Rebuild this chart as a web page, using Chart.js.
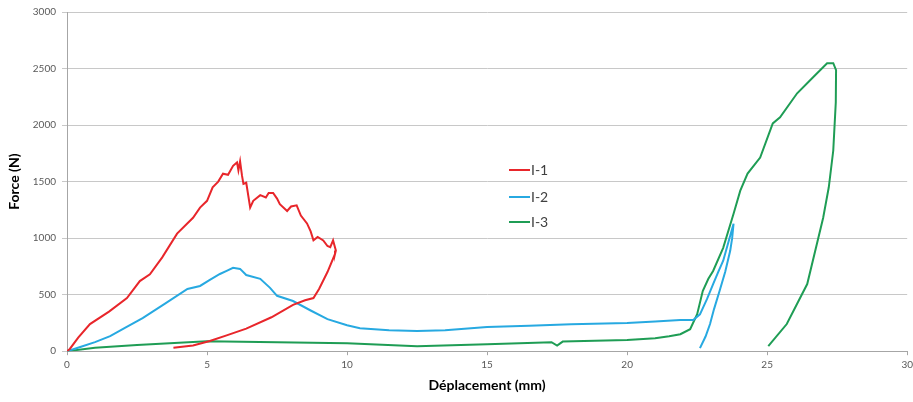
<!DOCTYPE html>
<html>
<head>
<meta charset="utf-8">
<script src="https://cdn.jsdelivr.net/npm/chart.js@4"></script>
<style>
  body { margin: 0; background: #fff; overflow: hidden; }
  #wrap { width: 913px; height: 402px; overflow: hidden; }
</style>
</head>
<body>
<div id="wrap"><canvas id="myChart" width="917" height="402"></canvas></div>
<script>
// séries (déplacement en mm, force en N)
const labels = ["I-1", "I-2", "I-3"];
const colors = ["#e8262b", "#27a9e1", "#1f9d55"];

const x1 = [0, 0.1, 0.4, 0.82, 1.5, 2.14, 2.6, 2.96, 3.4, 3.93, 4.5, 4.75, 5.0, 5.2, 5.4, 5.57, 5.75, 5.93, 6.07, 6.12, 6.18, 6.25, 6.3, 6.4, 6.54, 6.65, 6.9, 7.1, 7.2, 7.36, 7.5, 7.6, 7.86, 8.0, 8.2, 8.35, 8.57, 8.7, 8.8, 8.95, 9.15, 9.3, 9.4, 9.5, 9.6, 9.57, 9.3, 9.0, 8.8, 8.5, 8.07, 7.3, 6.4, 5.7, 5.1, 4.5, 3.8];
const y1 = [0, 20, 120, 240, 350, 470, 620, 680, 830, 1040, 1180, 1270, 1330, 1450, 1500, 1570, 1560, 1640, 1670, 1600, 1680, 1550, 1480, 1490, 1270, 1330, 1380, 1360, 1400, 1400, 1350, 1300, 1240, 1280, 1290, 1200, 1130, 1060, 980, 1010, 980, 930, 920, 980, 890, 860, 700, 550, 470, 450, 410, 300, 200, 140, 90, 50, 30];

const x2 = [0, 0.5, 1.0, 1.54, 2.1, 2.7, 3.5, 4.3, 4.75, 5.1, 5.46, 5.7, 5.93, 6.18, 6.4, 6.9, 7.25, 7.5, 8.07, 8.7, 9.3, 10.0, 10.46, 11.5, 12.5, 13.5, 15.0, 16.5, 18.0, 20.0, 21.0, 21.9, 22.36, 22.6, 22.85, 23.07, 23.25, 23.43, 23.6, 23.8, 23.75, 23.68, 23.5, 23.3, 23.1, 22.96, 22.8, 22.6];
const y2 = [0, 40, 80, 133, 210, 293, 420, 550, 577, 630, 683, 710, 737, 728, 674, 640, 560, 490, 444, 360, 284, 230, 204, 185, 178, 185, 213, 225, 238, 250, 262, 275, 275, 326, 460, 594, 700, 800, 950, 1127, 1000, 888, 700, 532, 370, 240, 130, 27];

const x3 = [0, 1.0, 2.5, 5.0, 7.5, 10.0, 12.5, 15.0, 17.3, 17.5, 17.7, 20.0, 21.0, 21.5, 21.9, 22.25, 22.5, 22.7, 22.9, 23.07, 23.43, 23.8, 24.04, 24.3, 24.75, 25.2, 25.46, 26.07, 26.64, 27.14, 27.36, 27.46, 27.45, 27.36, 27.2, 27.0, 26.43, 25.7, 25.04];
const y3 = [0, 30, 55, 89, 80, 71, 44, 62, 80, 50, 85, 98, 115, 133, 150, 195, 328, 532, 640, 710, 914, 1216, 1420, 1571, 1713, 2015, 2068, 2281, 2423, 2547, 2547, 2485, 2200, 1775, 1450, 1180, 594, 240, 44];

const xTicks = [0, 5, 10, 15, 20, 25, 30];
const yTicks = [0, 500, 1000, 1500, 2000, 2500, 3000];

function toPoints(xs, ys) {
    return xs.map((x, i) => ({ x: x, y: ys[i] }));
}

// légende dessinée dans la zone du graphique
const insideLegend = {
    id: "insideLegend",
    afterDraw(chart) {
        const ctx = chart.ctx;
        const rows = [170, 197, 222];
        ctx.save();
        ctx.font = "14px Lato";
        ctx.textBaseline = "middle";
        labels.forEach((lab, i) => {
            ctx.strokeStyle = colors[i];
            ctx.lineWidth = 2;
            ctx.beginPath();
            ctx.moveTo(509, rows[i]);
            ctx.lineTo(530, rows[i]);
            ctx.stroke();
            ctx.fillStyle = "#404040";
            ctx.fillText(lab, 531, rows[i]);
        });
        ctx.restore();
    }
};

const ctx = document.getElementById("myChart").getContext("2d");
const myChart = new Chart(ctx, {
    type: "scatter",
    data: {
        datasets: [
            { label: labels[0], data: toPoints(x1, y1) },
            { label: labels[1], data: toPoints(x2, y2) },
            { label: labels[2], data: toPoints(x3, y3) }
        ].map((d, i) => Object.assign(d, {
            showLine: true,
            borderColor: colors[i],
            backgroundColor: colors[i],
            borderWidth: 2,
            pointRadius: 0,
            tension: 0
        }))
    },
    options: {
        responsive: false,
        animation: false,
        layout: { padding: { top: 6, right: 2, left: 4, bottom: 4 } },
        plugins: {
            legend: { display: false },
            tooltip: { enabled: false }
        },
        scales: {
            x: {
                type: "linear",
                min: 0,
                max: 30,
                afterBuildTicks: axis => { axis.ticks = xTicks.map(v => ({ value: v })); },
                grid: { drawOnChartArea: false, color: "#a6a6a6", tickLength: 4 },
                border: { color: "#a6a6a6" },
                ticks: { color: "#595959", font: { family: "Lato", size: 10 }, padding: 4, callback: v => String(v) },
                title: { display: true, text: "Déplacement (mm)", color: "#000", font: { family: "Lato", size: 14, weight: "bold" }, padding: { top: 2 } }
            },
            y: {
                min: 0,
                max: 3000,
                afterBuildTicks: axis => { axis.ticks = yTicks.map(v => ({ value: v })); },
                grid: { color: "#c8c8c8", tickLength: 5 },
                border: { color: "#a6a6a6" },
                ticks: { color: "#595959", font: { family: "Lato", size: 10 }, padding: 6, callback: v => String(v) },
                title: { display: true, text: "Force (N)", color: "#000", font: { family: "Lato", size: 14, weight: "bold" }, padding: { top: 2, bottom: 4 } }
            }
        }
    },
    plugins: [insideLegend]
});
</script>
</body>
</html>
